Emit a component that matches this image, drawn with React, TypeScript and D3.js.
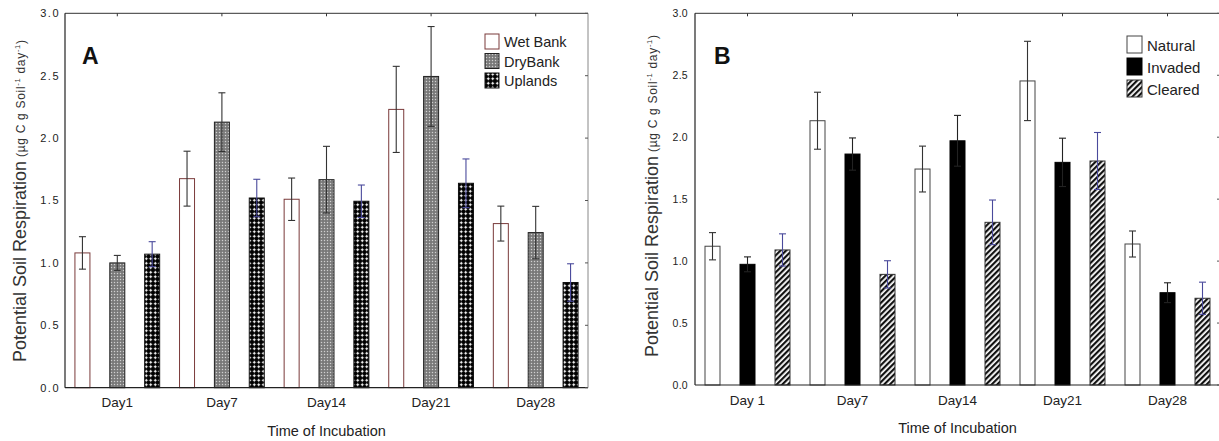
import React from "react";
import * as d3 from "d3";

// Incubation days shared by both panels
const daysA = ["Day1", "Day7", "Day14", "Day21", "Day28"];
const daysB = ["Day 1", "Day7", "Day14", "Day21", "Day28"];

// Panel A: riparian zones
const seriesA = ["Wet Bank", "DryBank", "Uplands"];
const wetBank = [1.08, 1.675, 1.51, 2.23, 1.315];
const wetBankErr = [0.13, 0.22, 0.17, 0.345, 0.14];
const dryBank = [1.0, 2.128, 1.667, 2.494, 1.243];
const dryBankErr = [0.06, 0.235, 0.267, 0.4, 0.21];
const uplands = [1.07, 1.52, 1.494, 1.638, 0.843];
const uplandsErr = [0.1, 0.15, 0.13, 0.195, 0.15];

// Panel B: invasion status
const seriesB = ["Natural", "Invaded", "Cleared"];
const natural = [1.12, 2.133, 1.743, 2.454, 1.138];
const naturalErr = [0.11, 0.23, 0.185, 0.32, 0.105];
const invaded = [0.974, 1.864, 1.971, 1.797, 0.745];
const invadedErr = [0.06, 0.13, 0.205, 0.195, 0.08];
const cleared = [1.09, 0.893, 1.313, 1.808, 0.7];
const clearedErr = [0.13, 0.11, 0.18, 0.23, 0.13];

const yTicks = [0, 0.5, 1.0, 1.5, 2.0, 2.5, 3.0];

const FONT = "Arial, 'Liberation Sans', Helvetica, sans-serif";
const INK = "#222";
const BLUE_ERR = "#4a4a9c";

type Style = { fill: string; stroke: string; err: string };

type PanelProps = {
  days: string[];
  series: string[];
  values: number[][];
  errors: number[][];
  styles: Style[];
  left: number;
  right: number;
  top: number;
  bottom: number;
  letter: string;
  letterX: number;
  tickFont: number;
  tickSpacing: number;
  labelRight: number;
  dayBaseline: number;
  titleBaseline: number;
  yLabelX: number;
  yLabelStart: number;
  legendX: number;
  legendTop: number;
  legendStep: number;
  legendW: number;
  legendH: number;
  legendFont: number;
  frameRight: string;
};

function Panel(p: PanelProps) {
  const x = d3.scaleBand<string>().domain(p.days).range([p.left, p.right]).padding(0);
  const inner = d3.scaleBand<string>().domain(p.series).range([0, x.bandwidth()]).padding(0);
  const y = d3.scaleLinear().domain([0, 3]).range([p.bottom, p.top]);
  const barW = 15;
  const cap = 3.5;
  const midX = (p.left + p.right) / 2;

  return (
    <g fontFamily={FONT}>
      {/* bars */}
      {p.series.map((s, si) =>
        p.days.map((d, di) => {
          const cx = (x(d) as number) + (inner(s) as number) + inner.bandwidth() / 2;
          const v = p.values[si][di];
          return (
            <rect
              key={s + d}
              x={cx - barW / 2}
              y={y(v)}
              width={barW}
              height={y(0) - y(v)}
              fill={p.styles[si].fill}
              stroke={p.styles[si].stroke}
              strokeWidth={1}
            />
          );
        })
      )}
      {/* error bars */}
      {p.series.map((s, si) =>
        p.days.map((d, di) => {
          const cx = (x(d) as number) + (inner(s) as number) + inner.bandwidth() / 2;
          const v = p.values[si][di];
          const e = p.errors[si][di];
          const c = p.styles[si].err;
          return (
            <g key={"e" + s + d} stroke={c} strokeWidth={1.1}>
              <line x1={cx} x2={cx} y1={y(v + e)} y2={y(v - e)} />
              <line x1={cx - cap} x2={cx + cap} y1={y(v + e)} y2={y(v + e)} />
              <line x1={cx - cap} x2={cx + cap} y1={y(v - e)} y2={y(v - e)} />
            </g>
          );
        })
      )}
      {/* frame */}
      <line x1={p.left} x2={p.right} y1={p.top} y2={p.top} stroke="#333" />
      <line x1={p.left} x2={p.right} y1={p.bottom} y2={p.bottom} stroke="#222" strokeWidth={1.2} />
      <line x1={p.left} x2={p.left} y1={p.top} y2={p.bottom} stroke="#222" strokeWidth={1.2} />
      <line x1={p.right} x2={p.right} y1={p.top} y2={p.bottom} stroke={p.frameRight} />
      {/* top ticks at category centres */}
      {p.days.map((d) => {
        const cx = (x(d) as number) + x.bandwidth() / 2;
        return <line key={"tt" + d} x1={cx} x2={cx} y1={p.top} y2={p.top + 3} stroke="#333" />;
      })}
      {/* right ticks */}
      {yTicks.map((t) => (
        <line key={"rt" + t} x1={p.right - 3} x2={p.right} y1={y(t)} y2={y(t)} stroke="#555" />
      ))}
      {/* y tick labels */}
      {yTicks.map((t) => (
        <text
          key={"yl" + t}
          x={p.labelRight}
          y={y(t)}
          dy="0.35em"
          textAnchor="end"
          fontSize={p.tickFont}
          letterSpacing={p.tickSpacing}
          fill={INK}
        >
          {d3.format(".1f")(t)}
        </text>
      ))}
      {/* category labels */}
      {p.days.map((d) => (
        <text
          key={"xl" + d}
          x={(x(d) as number) + x.bandwidth() / 2}
          y={p.dayBaseline}
          textAnchor="middle"
          fontSize={13.5}
          fill={INK}
        >
          {d}
        </text>
      ))}
      <text x={midX} y={p.titleBaseline} textAnchor="middle" fontSize={14.5} fill={INK}>
        Time of Incubation
      </text>
      {/* y axis title */}
      <text
        transform={`translate(${p.yLabelX},${p.yLabelStart}) rotate(-90)`}
        fontSize={18}
        fill="#333"
      >
        Potential Soil Respiration
      </text>
      <text
        transform={`translate(${p.yLabelX - 1},${p.yLabelStart - 205}) rotate(-90)`}
        fontSize={12}
        letterSpacing={0.7}
        fill="#333"
      >
        (µg C g Soil
        <tspan fontSize={7.5} dy={-5}>-1</tspan>
        <tspan dy={5}> day</tspan>
        <tspan fontSize={7.5} dy={-5}>-1</tspan>
        <tspan dy={5}>)</tspan>
      </text>
      {/* panel letter */}
      <text x={p.letterX} y={63.5} fontSize={23} fontWeight="bold" fill="#111">
        {p.letter}
      </text>
      {/* legend */}
      {p.series.map((s, si) => {
        const ty = p.legendTop + si * p.legendStep;
        return (
          <g key={"lg" + s}>
            <rect
              x={p.legendX}
              y={ty}
              width={p.legendW}
              height={p.legendH}
              fill={p.styles[si].fill}
              stroke={p.styles[si].stroke}
            />
            <text
              x={p.legendX + p.legendW + 5}
              y={ty + p.legendH - 2}
              fontSize={p.legendFont}
              fill={INK}
            >
              {s}
            </text>
          </g>
        );
      })}
    </g>
  );
}

export default function App() {
  const stylesA: Style[] = [
    { fill: "#ffffff", stroke: "#7a3a3a", err: "#333" },
    { fill: "url(#dotGray)", stroke: "#222", err: "#333" },
    { fill: "url(#crossBlack)", stroke: "#111", err: BLUE_ERR },
  ];
  const stylesB: Style[] = [
    { fill: "#ffffff", stroke: "#444", err: "#333" },
    { fill: "#000000", stroke: "#000", err: "#222" },
    { fill: "url(#hatch)", stroke: "#333", err: BLUE_ERR },
  ];

  return (
    <svg
      width={1219}
      height={441}
      style={{ position: "absolute", left: 0, top: 0, background: "#fff" }}
    >
      <defs>
        <pattern id="dotGray" width={3} height={3} patternUnits="userSpaceOnUse">
          <rect width={3} height={3} fill="#858585" />
          <rect x={0} y={0} width={1} height={1} fill="#d0d0d0" />
          <rect x={1.5} y={1.5} width={1} height={1} fill="#555" />
        </pattern>
        <pattern id="crossBlack" width={4.5} height={4.5} patternUnits="userSpaceOnUse">
          <rect width={4.5} height={4.5} fill="#000" />
          <rect x={1.75} y={0.75} width={1} height={3} fill="#fff" />
          <rect x={0.75} y={1.75} width={3} height={1} fill="#fff" />
        </pattern>
        <pattern
          id="hatch"
          width={4}
          height={4}
          patternUnits="userSpaceOnUse"
          patternTransform="rotate(45)"
        >
          <rect width={4} height={4} fill="#fff" />
          <rect x={0} y={0} width={2.2} height={4} fill="#111" />
        </pattern>
      </defs>
      <Panel
        days={daysA}
        series={seriesA}
        values={[wetBank, dryBank, uplands]}
        errors={[wetBankErr, dryBankErr, uplandsErr]}
        styles={stylesA}
        left={65}
        right={588}
        top={13.3}
        bottom={387.7}
        letter="A"
        letterX={82}
        tickFont={11}
        tickSpacing={1.5}
        labelRight={60}
        dayBaseline={407}
        titleBaseline={436}
        yLabelX={26}
        yLabelStart={362}
        legendX={485}
        legendTop={34}
        legendStep={19.5}
        legendW={14}
        legendH={15}
        legendFont={14.5}
        frameRight="#888"
      />
      <Panel
        days={daysB}
        series={seriesB}
        values={[natural, invaded, cleared]}
        errors={[naturalErr, invadedErr, clearedErr]}
        styles={stylesB}
        left={695}
        right={1220}
        top={13.3}
        bottom={385}
        letter="B"
        letterX={714}
        tickFont={10.5}
        tickSpacing={0.3}
        labelRight={688}
        dayBaseline={405}
        titleBaseline={433}
        yLabelX={658}
        yLabelStart={357}
        legendX={1127}
        legendTop={36}
        legendStep={22}
        legendW={15}
        legendH={17}
        legendFont={15}
        frameRight="#888"
      />
    </svg>
  );
}
